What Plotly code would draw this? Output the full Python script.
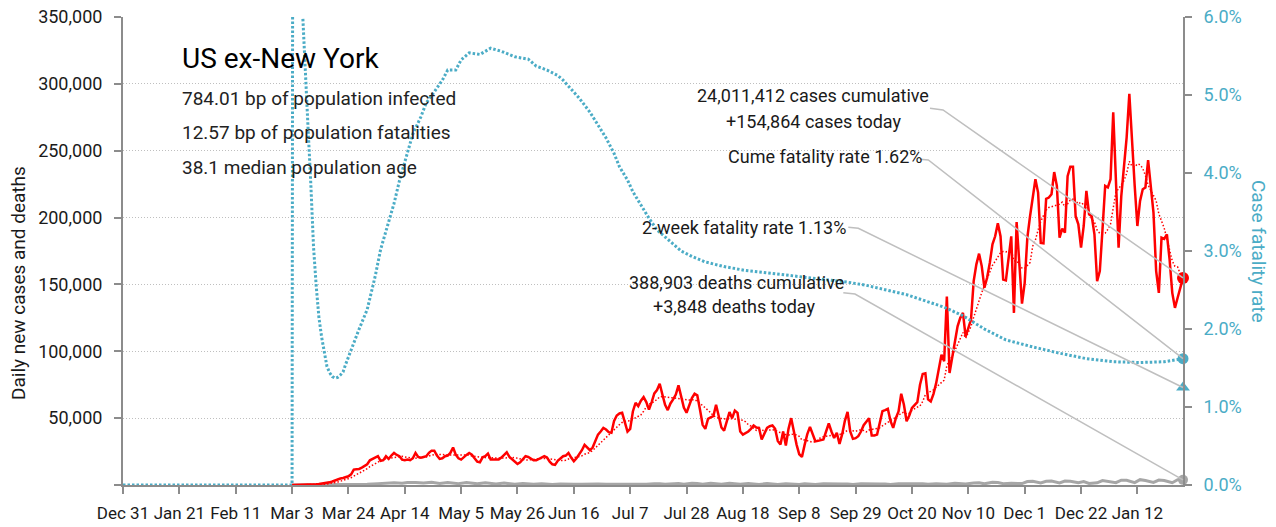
import numpy as np
import pandas as pd
import plotly.graph_objects as go

# ---------------- data ----------------
START = "2019-12-31"          # day 0 of the series
CASES_FIRST_DAY = 63          # Mar 3, 2020

# daily new cases, thousands, one row per week (Tue..Mon) from Mar 3, 2020
cases_k = [
    0.02, 0.03, 0.05, 0.08, 0.1, 0.12, 0.15,
    0.25, 0.35, 0.5, 0.7, 0.9, 1.1, 1.5,
    2.0, 2.6, 3.5, 4.2, 4.8, 5.2, 6.0,
    6.5, 8.0, 11.5, 11.8, 12.0, 13.0, 14.0,
    15.5, 18.5, 19.5, 20.5, 21.5, 18.0, 18.5,
    21.5, 19.5, 22.0, 24.0, 22.5, 21.5, 19.0,
    18.5, 19.0, 18.5, 20.0, 24.0, 21.0, 20.5,
    21.0, 21.5, 24.0, 25.7, 25.7, 22.0, 19.5,
    20.0, 21.5, 22.0, 24.0, 28.0, 22.7, 20.0,
    19.0, 21.0, 22.5, 24.0, 22.7, 20.0, 17.5,
    17.0, 20.7, 21.5, 23.5, 19.0, 19.0, 18.5,
    19.0, 20.5, 22.5, 24.5, 21.0, 19.0, 17.0,
    15.7, 17.0, 19.5, 21.5, 21.0, 19.5, 18.5,
    18.5, 19.5, 20.5, 21.5, 20.5, 17.5, 15.5,
    15.0, 18.0, 20.0, 21.5, 22.0, 24.0, 20.5,
    17.7, 20.0, 22.7, 26.0, 30.0, 28.0, 26.0,
    28.0, 33.0, 37.7, 40.0, 42.7, 41.5, 39.5,
    39.0, 48.0, 52.0, 53.5, 54.0, 47.0, 40.0,
    42.0, 55.0, 61.5, 59.0, 63.0, 65.7, 62.0,
    56.5, 62.0, 68.5, 71.0, 75.7, 67.7, 60.0,
    56.0, 61.0, 64.0, 67.7, 74.5, 66.5, 58.0,
    54.0, 60.0, 65.0, 68.2, 67.0, 56.5, 45.0,
    42.0, 49.5, 50.5, 51.5, 60.0, 51.5, 43.0,
    40.7, 47.0, 54.5, 50.0, 55.7, 54.0, 40.0,
    37.7, 39.0, 40.0, 42.0, 44.5, 43.0, 42.7,
    34.0, 38.0, 42.7, 44.0, 44.5, 42.0, 33.0,
    30.2, 40.0, 29.5, 42.0, 50.0, 40.0, 30.2,
    23.0, 21.0, 30.0, 38.0, 43.5, 38.0, 32.7,
    33.0, 33.5, 34.0, 40.0, 46.0, 40.0, 35.2,
    39.0, 30.7, 38.0, 48.0, 54.7, 40.0, 34.5,
    35.0, 36.5, 40.0, 44.7, 47.0, 50.0, 37.0,
    37.0, 37.7, 46.0, 55.2, 56.0, 57.0, 48.0,
    42.7, 50.0, 55.0, 68.2, 60.0, 47.7, 52.0,
    57.7, 60.0, 62.0, 75.0, 83.0, 83.5, 64.0,
    62.5, 68.0, 76.0, 88.0, 97.5, 92.5, 141.0,
    83.7, 96.0, 105.0, 118.7, 125.0, 128.7, 111.0,
    118.0, 123.7, 152.5, 165.0, 173.0, 163.7, 147.5,
    155.0, 166.0, 180.0, 186.0, 195.7, 186.0, 153.7,
    153.0, 170.0, 186.0, 128.7, 196.7, 166.0, 135.7,
    151.0, 185.0, 201.0, 215.0, 228.7, 218.7, 181.0,
    180.7, 214.0, 215.0, 217.5, 234.0, 223.7, 185.0,
    191.7, 188.7, 231.0, 238.0, 238.0, 201.0, 195.0,
    177.5, 193.7, 220.0, 202.5, 201.0, 187.5, 152.5,
    160.0, 191.0, 223.7, 222.5, 228.7, 278.7, 228.7,
    177.5, 216.0, 241.0, 260.0, 292.5, 253.7, 223.7,
    193.7, 212.5, 221.2, 222.5, 243.0, 225.0, 203.7,
    160.0, 143.7, 185.0, 184.0, 187.5, 168.7, 143.7,
    132.5, 140.0, 148.0, 154.864,
]

# daily deaths, thousands (day offset from START, value)
deaths_day = [63, 77, 84, 88, 91, 95, 98, 101, 104, 106,
              109, 112, 115, 118, 121, 123, 125, 128, 130, 132,
              135, 137, 139, 142, 144, 146, 149, 151, 153, 156,
              158, 160, 163, 165, 168, 171, 174, 177, 180, 183,
              186, 189, 192, 195, 198, 200, 202, 205, 207, 209,
              212, 214, 216, 219, 221, 223, 226, 228, 230, 233,
              235, 237, 240, 242, 244, 247, 249, 252, 254, 256,
              258, 261, 263, 265, 268, 270, 272, 275, 277, 279,
              282, 284, 286, 289, 291, 293, 296, 298, 300, 303,
              305, 307, 310, 312, 314, 317, 319, 321, 324, 326,
              328, 331, 333, 335, 337, 339, 342, 344, 346, 349,
              351, 353, 356, 358, 360, 363, 365, 367, 370, 372,
              374, 377, 379, 381, 384, 386, 388, 391, 393, 395]
deaths_k = [0, 0.02, 0.1, 0.3, 0.6, 1.0, 1.4, 1.7, 1.3, 1.9,
            1.8, 1.5, 2.0, 1.2, 1.9, 1.6, 1.0, 1.9, 1.5, 0.9,
            1.6, 1.4, 0.8, 1.4, 1.1, 0.5, 1.2, 0.9, 0.5, 0.9,
            0.7, 0.4, 0.8, 0.6, 0.6, 0.6, 0.4, 0.7, 0.6, 0.6,
            0.3, 0.8, 0.8, 0.6, 0.9, 1.0, 0.5, 1.1, 1.2, 0.6,
            1.3, 1.2, 0.6, 1.3, 1.1, 0.6, 1.3, 1.1, 0.5, 1.1,
            1.0, 0.4, 1.1, 0.9, 0.4, 1.0, 0.9, 0.4, 1.0, 0.8,
            0.4, 0.9, 0.8, 0.4, 0.8, 0.8, 0.4, 0.9, 0.8, 0.4,
            0.8, 0.8, 0.4, 0.9, 0.8, 0.5, 0.9, 0.9, 0.5, 1.0,
            1.0, 0.5, 1.3, 1.2, 0.7, 1.5, 1.6, 0.9, 2.0, 1.9,
            1.0, 1.3, 1.3, 1.1, 2.6, 2.8, 1.5, 2.8, 2.9, 1.6,
            3.0, 2.8, 1.7, 2.6, 1.2, 1.6, 3.3, 2.5, 1.7, 3.6,
            3.5, 1.8, 4.0, 3.3, 1.9, 3.7, 3.4, 1.7, 3.9, 3.848]

# cumulative case fatality rate, percent (day offset from START, value)
cfr_day = [0, 63, 64, 65, 66, 67, 68, 69, 70, 71,
           72, 73, 74, 75, 76, 77, 78, 79, 80, 81,
           82, 83, 85, 88, 91, 94, 96, 99, 101, 103,
           106, 108, 111, 113, 116, 119, 121, 124, 126, 129,
           133, 137, 141, 146, 151, 154, 158, 162, 164, 167,
           170, 174, 177, 180, 183, 185, 188, 190, 193, 196,
           199, 202, 205, 208, 212, 217, 224, 232, 240, 250,
           260, 270, 277, 284, 292, 299, 306, 313, 321, 329,
           339, 349, 359, 369, 379, 388, 395]
cfr_pct = [0, 0, 30, 16, 9, 6.0, 5.35, 4.55, 3.85, 3.05,
           2.55, 2.15, 1.9, 1.68, 1.52, 1.44, 1.39, 1.37, 1.38, 1.41,
           1.45, 1.55, 1.74, 2.0, 2.25, 2.68, 3.02, 3.37, 3.61, 3.9,
           4.25, 4.5, 4.72, 4.9, 5.04, 5.19, 5.32, 5.32, 5.45, 5.54,
           5.52, 5.6, 5.56, 5.49, 5.46, 5.37, 5.32, 5.25, 5.19, 5.07,
           4.96, 4.78, 4.62, 4.45, 4.25, 4.08, 3.91, 3.76, 3.59, 3.42,
           3.27, 3.18, 3.08, 3.0, 2.93, 2.86, 2.80, 2.75, 2.72, 2.68,
           2.64, 2.60, 2.56, 2.50, 2.44, 2.36, 2.28, 2.17, 2.0, 1.86,
           1.77, 1.69, 1.62, 1.58, 1.57, 1.58, 1.62]

two_week_marker_pct = 1.25   # position of the triangle marker as drawn

x_tick_labels = ["Dec 31", "Jan 21", "Feb 11", "Mar 3", "Mar 24", "Apr 14",
                 "May 5", "May 26", "Jun 16", "Jul 7", "Jul 28", "Aug 18",
                 "Sep 8", "Sep 29", "Oct 20", "Nov 10", "Dec 1", "Dec 22",
                 "Jan 12"]
y_tick_vals = [0, 50000, 100000, 150000, 200000, 250000, 300000, 350000]
y_tick_labels = ["", "50,000", "100,000", "150,000", "200,000", "250,000",
                 "300,000", "350,000"]

title_text = "US ex-New York"
stats_lines = ["784.01 bp of population infected",
               "12.57 bp of population fatalities",
               "38.1 median population age"]
cases_note = ["24,011,412 cases cumulative", "+154,864 cases today"]
cume_note = "Cume fatality rate 1.62%"
two_week_note = "2-week fatality rate 1.13%"
deaths_note = ["388,903 deaths cumulative", "+3,848 deaths today"]

# ---------------- derived series ----------------
start = pd.Timestamp(START)
cases = np.array(cases_k) * 1000.0
case_dates = start + pd.to_timedelta(np.arange(CASES_FIRST_DAY, CASES_FIRST_DAY + len(cases)), unit="D")
avg7 = pd.Series(cases).rolling(7, min_periods=1).mean().values
deaths = np.array(deaths_k) * 1000.0
death_dates = start + pd.to_timedelta(deaths_day, unit="D")
cfr_dates = start + pd.to_timedelta(cfr_day, unit="D")
end_date = case_dates[-1]
x_tick_vals = [start + pd.Timedelta(days=21 * i) for i in range(len(x_tick_labels))]

# ---------------- styling ----------------
# page is 1276x527; the browser's default 8px body margin offsets the figure
OFF = 8
W, H = 1276 - OFF, 527 - OFF
PL, PR, PT, PB = 123, 1183, 17, 485        # plot area in page pixels
L, R, T, B = PL - OFF, PR - OFF, PT - OFF, PB - OFF
TEAL = "#4BACC6"
RED = "#FF0000"
GRAY = "#8C8C8C"
CONN = "#BFBFBF"
FONT = "Roboto, Liberation Sans, sans-serif"
YMAX, Y2MAX = 350000, 6.0


def px(xp):
    return (xp - PL) / (PR - PL)


def py(yp):
    return (PB - yp) / (PB - PT)


fig = go.Figure()
fig.add_trace(go.Scatter(x=death_dates, y=deaths, mode="lines",
                         line=dict(color="#A6A6A6", width=3), hoverinfo="skip"))
fig.add_trace(go.Scatter(x=case_dates, y=avg7, mode="lines",
                         line=dict(color=RED, width=1.5, dash="1.5px,2px"), hoverinfo="skip"))
fig.add_trace(go.Scatter(x=case_dates, y=cases, mode="lines",
                         line=dict(color=RED, width=2.5), hoverinfo="skip"))
fig.add_trace(go.Scatter(x=[end_date], y=[cases[-1]], mode="markers", cliponaxis=False,
                         marker=dict(color=RED, size=12), hoverinfo="skip"))
fig.add_trace(go.Scatter(x=[end_date], y=[deaths[-1]], mode="markers", cliponaxis=False,
                         marker=dict(color="#A6A6A6", size=10), hoverinfo="skip"))
fig.add_trace(go.Scatter(x=cfr_dates, y=cfr_pct, yaxis="y2", mode="lines",
                         line=dict(color=TEAL, width=3, dash="2.5px,2px"), hoverinfo="skip"))
fig.add_trace(go.Scatter(x=[end_date], y=[cfr_pct[-1]], yaxis="y2", mode="markers", cliponaxis=False,
                         marker=dict(color=TEAL, size=11), hoverinfo="skip"))
fig.add_trace(go.Scatter(x=[end_date], y=[two_week_marker_pct], yaxis="y2", mode="markers", cliponaxis=False,
                         marker=dict(color=TEAL, size=12, symbol="triangle-up"), hoverinfo="skip"))

annotations = []


def note(text, xp, yp, size, color="#1a1a1a", xanchor="center", angle=0):
    annotations.append(dict(text=text, x=px(xp), y=py(yp), xref="paper", yref="paper",
                            xanchor=xanchor, yanchor="middle", showarrow=False,
                            textangle=angle, font=dict(family=FONT, size=size, color=color)))


note(title_text, 180, 58, 28, "#000000", "left")
for i, s in enumerate(stats_lines):
    note(s, 180, 98 + 34.5 * i, 19, "#222222", "left")
note(cases_note[0], 813, 96, 18)
note(cases_note[1], 814, 121, 18)
note(cume_note, 825, 156, 18)
note(two_week_note, 744, 228, 18)
note(deaths_note[0], 736, 282, 18)
note(deaths_note[1], 734, 306, 18)
note("Daily new cases and deaths", 18, 283, 19, "#1a1a1a", "center", -90)
note("Case fatality rate", 1259, 251, 19, TEAL, "center", 90)

# connector lines from the notes to the end markers
ends = [
    ((930, 108.3), (943, 110), cases[-1] / YMAX),
    ((920, 159.3), (928.3, 160), cfr_pct[-1] / Y2MAX),
    ((848.3, 227.3), (858.3, 228.3), two_week_marker_pct / Y2MAX),
    ((843.3, 292.7), (855, 294), deaths[-1] / YMAX),
]
shapes = []
for (a, b, yend) in ends:
    path = "M {:.5f} {:.5f} L {:.5f} {:.5f} L 1 {:.5f}".format(px(a[0]), py(a[1]), px(b[0]), py(b[1]), yend)
    shapes.append(dict(type="path", path=path, xref="paper", yref="paper",
                       line=dict(color=CONN, width=1.5)))

fig.update_layout(
    width=W, height=H,
    margin=dict(l=L, r=W - R, t=T, b=H - B, pad=0, autoexpand=False),
    paper_bgcolor="white", plot_bgcolor="white",
    showlegend=False,
    font=dict(family=FONT, size=18, color="#1a1a1a"),
    annotations=annotations,
    shapes=shapes,
    xaxis=dict(type="date", range=[start, end_date], tickvals=x_tick_vals, ticktext=x_tick_labels,
               automargin=False, tickangle=0, ticklabeloverflow="allow",
               showgrid=False, zeroline=False, showline=True, linecolor=GRAY, linewidth=2,
               ticks="outside", ticklen=7, tickwidth=1.5, tickcolor=GRAY, ticklabelstandoff=5,
               tickfont=dict(family=FONT, size=17, color="#1a1a1a")),
    yaxis=dict(range=[0, YMAX], tickvals=y_tick_vals, ticktext=y_tick_labels, automargin=False,
               ticklabeloverflow="allow",
               showgrid=True, gridcolor="#BFBFBF", gridwidth=1, griddash="1px,2px",
               zeroline=False, showline=True, linecolor=GRAY, linewidth=2,
               ticks="outside", ticklen=7, tickwidth=1.5, tickcolor=GRAY, ticklabelstandoff=8,
               tickfont=dict(family=FONT, size=18, color="#1a1a1a")),
    yaxis2=dict(range=[0, Y2MAX], overlaying="y", side="right", dtick=1, tick0=0, automargin=False,
                ticklabeloverflow="allow",
                tickformat=".1f", ticksuffix="%", showgrid=False, zeroline=False,
                showline=True, linecolor=GRAY, linewidth=2,
                ticks="outside", ticklen=7, tickwidth=1.5, tickcolor=GRAY, ticklabelstandoff=8,
                tickfont=dict(family=FONT, size=18, color=TEAL)),
)

fig.write_html("out.html")
